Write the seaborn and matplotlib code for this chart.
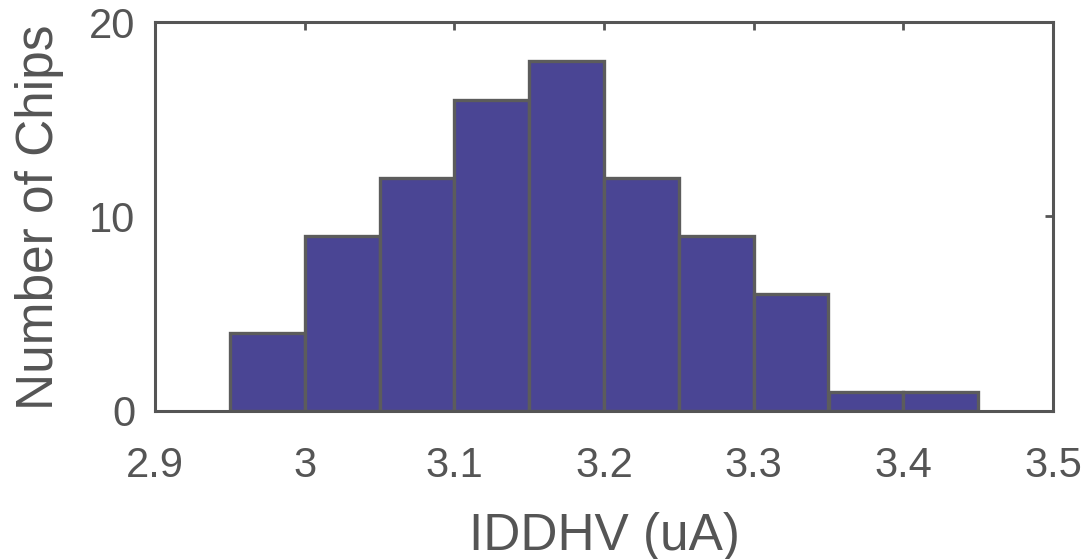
import numpy as np
import matplotlib
matplotlib.use("Agg")
import matplotlib.pyplot as plt
import seaborn as sns

# histogram data
bin_edges = [2.95, 3.00, 3.05, 3.10, 3.15, 3.20, 3.25, 3.30, 3.35, 3.40, 3.45]
chip_counts = [4, 9, 12, 16, 18, 12, 9, 6, 1, 1]
x_ticks = [2.9, 3.0, 3.1, 3.2, 3.3, 3.4, 3.5]
x_tick_labels = ["2.9", "3", "3.1", "3.2", "3.3", "3.4", "3.5"]
y_ticks = [0, 10, 20]

bin_centers = [(a + b) / 2 for a, b in zip(bin_edges[:-1], bin_edges[1:])]

sns.set_style("white")
plt.rcParams['font.family'] = ['Liberation Sans', 'DejaVu Sans']
grey = "#555555"

fig = plt.figure(figsize=(10.87, 5.59), dpi=100)
ax = fig.add_axes([155 / 1087, 1 - 411 / 559, (1053 - 155) / 1087, (411 - 22) / 559])

sns.histplot(x=bin_centers, weights=chip_counts, bins=bin_edges, ax=ax,
             color="#4A4594", edgecolor="#5c5c5c", linewidth=2.4, alpha=1)

ax.set_xlim(2.9, 3.5)
ax.set_ylim(0, 20)
ax.set_xticks(x_ticks)
ax.set_xticklabels(x_tick_labels)
ax.set_yticks(y_ticks)
ax.set_xlabel("")
ax.set_ylabel("")

for s in ax.spines.values():
    s.set_color(grey)
    s.set_linewidth(2.2)

ax.tick_params(axis="both", direction="in", length=6, width=2, color=grey,
               labelcolor=grey, labelsize=30, top=True, right=True)
ax.tick_params(axis="x", pad=25)
ax.tick_params(axis="y", pad=14)

fig.text(604 / 1087, 1 - 550 / 559, "IDDHV (uA)", ha="center", va="baseline",
         fontsize=37, color=grey)
fig.text(40 / 1087, 1 - 410 / 559, "Number of Chips", ha="center", va="bottom",
         rotation=90, fontsize=37, color=grey)

fig.savefig("out.png", dpi=100)
